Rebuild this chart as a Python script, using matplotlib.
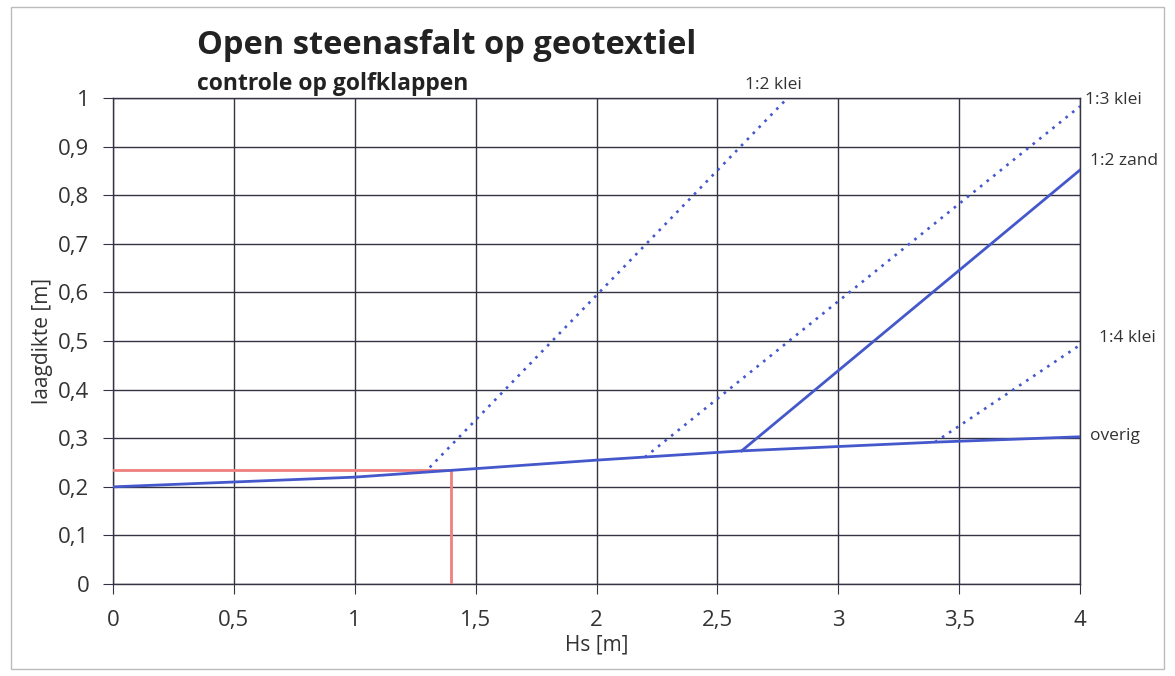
import numpy as np
import matplotlib
matplotlib.use("Agg")
import matplotlib.pyplot as plt
from matplotlib.ticker import FuncFormatter, MultipleLocator
from matplotlib.patches import Rectangle

plt.rcParams["font.family"] = ["Open Sans", "DejaVu Sans"]

# overig (base curve)
hs_overig = [0, 1, 1.4, 2, 2.6, 3.4, 4]
d_overig = [0.2, 0.22, 0.234, 0.255, 0.274, 0.292, 0.303]

# steep branches
hs_klei12 = [1.31, 2.79]
d_klei12 = [0.24, 1.0]
hs_klei13 = [2.2, 4.0]
d_klei13 = [0.261, 0.983]
hs_zand12 = [2.6, 4.0]
d_zand12 = [0.274, 0.852]
hs_klei14 = [3.4, 4.0]
d_klei14 = [0.292, 0.492]

# red reading line
hs_read = 1.4
d_read = 0.234

blue = "#4458cc"
red = "#f07f7f"

fig = plt.figure(figsize=(11.75, 6.76), dpi=100)
ax = fig.add_axes([0.0962, 0.136, 0.823, 0.719])

ax.plot([0, hs_read], [d_read, d_read], color=red, lw=2, zorder=3)
ax.plot([hs_read, hs_read], [0, d_read], color=red, lw=2, zorder=3)

ax.plot(hs_overig, d_overig, color=blue, lw=2, zorder=4)
ax.plot(hs_zand12, d_zand12, color=blue, lw=2, zorder=4)
dot = (0, (1, 2.2))
ax.plot(hs_klei12, d_klei12, color=blue, lw=1.9, ls=dot, zorder=4)
ax.plot(hs_klei13, d_klei13, color=blue, lw=1.9, ls=dot, zorder=4)
ax.plot(hs_klei14, d_klei14, color=blue, lw=1.9, ls=dot, zorder=4)

ax.set_xlim(0, 4)
ax.set_ylim(0, 1)
ax.xaxis.set_major_locator(MultipleLocator(0.5))
ax.yaxis.set_major_locator(MultipleLocator(0.1))
fmt = FuncFormatter(lambda v, p: ("%g" % round(v, 2)).replace(".", ","))
ax.xaxis.set_major_formatter(fmt)
ax.yaxis.set_major_formatter(fmt)
ax.grid(True, color="#333344", lw=1)
ax.set_axisbelow(True)
for s in ax.spines.values():
    s.set_color("#333344")
    s.set_linewidth(1)
ax.tick_params(labelsize=16, length=7, color="#333344", labelcolor="#333333")
ax.tick_params(axis="x", pad=12)
ax.tick_params(axis="y", pad=10)

ax.set_xlabel("Hs [m]", fontsize=15, color="#333333", labelpad=2)
ax.set_ylabel("laagdikte [m]", fontsize=15, color="#333333", labelpad=4)

# line labels
lab = dict(fontsize=12.5, color="#333333", transform=ax.transData, clip_on=False)
ax.text(2.73, 1.01, "1:2 klei", ha="center", va="bottom", **lab)
ax.text(4.02, 0.995, "1:3 klei", ha="left", va="center", **lab)
ax.text(4.04, 0.87, "1:2 zand", ha="left", va="center", **lab)
ax.text(4.08, 0.506, "1:4 klei", ha="left", va="center", **lab)
ax.text(4.04, 0.305, "overig", ha="left", va="center", **lab)

fig.text(0.1676, 0.933, "Open steenasfalt op geotextiel", fontsize=23.5,
         fontweight="bold", color="#222222", va="center")
fig.text(0.1676, 0.875, "controle op golfklappen", fontsize=16.5,
         fontweight="bold", color="#222222", va="center")

fig.patches.append(Rectangle((0.009, 0.01), 0.982, 0.98, transform=fig.transFigure,
                             fill=False, edgecolor="#bbbbbb", lw=1))

fig.savefig("out.png", dpi=100)
